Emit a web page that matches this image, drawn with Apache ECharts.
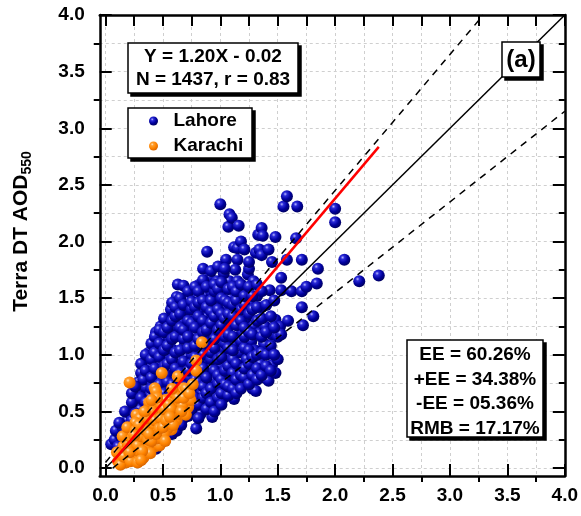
<!DOCTYPE html>
<html>
<head>
<meta charset="utf-8">
<script src="https://cdn.jsdelivr.net/npm/echarts@6/dist/echarts.min.js"></script>
<style>
  html, body { margin: 0; padding: 0; background: #fff; }
  #chart { width: 581px; height: 516px; }
</style>
</head>
<body>
<div id="chart"></div>
<script>
// AERONET AOD (x) vs Terra DT AOD550 (y)
const majorTicks = [0, 0.5, 1, 1.5, 2, 2.5, 3, 3.5, 4];
const minorTicks = [0.25, 0.75, 1.25, 1.75, 2.25, 2.75, 3.25, 3.75];
const gridTicks = [0, 0.25, 0.5, 0.75, 1, 1.25, 1.5, 1.75, 2, 2.25, 2.5, 2.75, 3, 3.25, 3.5, 3.75, 4];

const lahore = [
  [0.05,0.21],[0.08,0.25],[0.11,0.19],[0.13,0.29],[0.09,0.33],[0.16,0.23],[0.15,0.36],[0.18,0.31],[0.19,0.42],[0.14,0.15],
  [0.21,0.27],[0.22,0.47],[0.24,0.38],[0.25,0.55],[0.27,0.31],[0.28,0.45],[0.26,0.62],[0.29,0.68],[0.23,0.20],[0.30,0.52],[0.29,0.76],
  [0.31,0.84],[0.32,0.40],[0.33,0.60],[0.34,0.93],[0.35,0.71],[0.36,0.50],[0.37,0.82],[0.38,1.02],[0.39,0.64],[0.36,0.33],[0.40,0.90],[0.33,0.78],[0.38,0.45],
  [0.41,0.74],[0.42,1.08],[0.43,0.56],[0.44,0.97],[0.45,0.85],[0.46,1.15],[0.47,0.66],[0.48,0.92],[0.49,1.04],[0.42,0.44],[0.46,0.38],[0.50,0.78],[0.44,1.20],[0.48,1.25],
  [0.51,1.12],[0.52,0.58],[0.53,0.98],[0.54,1.30],[0.55,0.70],[0.56,1.22],[0.57,0.86],[0.58,1.05],[0.59,0.47],[0.52,0.40],[0.56,0.36],[0.60,1.36],[0.53,0.82],[0.57,1.40],[0.55,1.15],
  [0.61,0.62],[0.62,1.51],[0.63,1.62],[0.64,0.95],[0.65,1.18],[0.66,0.76],[0.67,1.30],[0.68,1.61],[0.69,1.08],[0.70,0.50],[0.62,0.44],[0.67,0.43],[0.64,1.42],[0.70,1.38],[0.66,0.88],[0.69,0.66],[0.61,1.25],
  [0.71,0.98],[0.72,1.48],[0.73,0.80],[0.74,1.22],[0.75,0.60],[0.76,1.10],[0.77,1.55],[0.78,0.90],[0.79,1.32],[0.80,0.70],[0.76,0.49],[0.79,0.35],[0.73,1.40],[0.78,1.18],[0.72,0.55],[0.80,1.50],[0.75,1.00],
  [0.81,1.06],[0.82,1.62],[0.83,0.83],[0.84,1.40],[0.85,1.76],[0.86,0.57],[0.87,1.25],[0.88,0.96],[0.89,1.52],[0.90,0.74],[0.885,1.91],[0.83,0.48],[0.86,1.15],[0.88,1.33],[0.82,1.28],[0.90,1.05],[0.84,0.66],
  [0.91,1.68],[0.92,0.88],[0.93,0.45],[0.94,1.20],[0.95,1.45],[0.96,0.64],[0.97,1.65],[0.98,1.02],[0.99,1.30],[1.00,2.33],[0.95,0.78],[0.92,1.55],[0.97,0.55],[1.00,0.90],[0.93,1.10],[0.99,1.52],
  [1.01,1.16],[1.02,0.70],[1.03,0.62],[1.04,1.42],[1.05,1.84],[1.06,0.98],[1.07,2.13],[1.08,1.65],[1.09,0.82],[1.10,1.28],[1.08,2.24],[1.10,2.21],[1.04,1.58],[1.06,1.22],[1.02,1.05],[1.09,1.50],[1.03,1.72],
  [1.12,0.61],[1.12,1.95],[1.13,1.10],[1.14,1.38],[1.15,1.94],[1.15,1.65],[1.15,1.84],[1.16,2.14],[1.17,0.90],[1.18,2.00],[1.18,1.52],[1.19,1.20],[1.20,0.75],[1.13,1.75],[1.17,1.02],
  [1.21,1.93],[1.22,1.32],[1.23,0.96],[1.24,1.71],[1.25,1.76],[1.25,1.82],[1.25,0.84],[1.26,1.45],[1.27,1.12],[1.28,0.70],[1.29,1.65],[1.30,1.04],[1.29,1.25],[1.31,0.68],[1.22,1.58],
  [1.31,1.90],[1.33,2.06],[1.34,2.06],[1.34,1.93],[1.34,1.19],[1.36,2.12],[1.36,1.88],[1.36,1.42],[1.37,2.05],[1.38,1.10],[1.39,1.25],[1.39,1.09],[1.35,0.92],[1.32,1.52],[1.38,0.80],
  [1.42,1.93],[1.42,1.03],[1.42,0.77],[1.43,1.57],[1.45,1.82],[1.45,1.18],[1.45,0.91],[1.48,2.04],[1.48,1.31],[1.48,0.84],[1.50,1.16],[1.50,0.96],[1.52,1.25],[1.53,1.68],[1.53,1.57],[1.53,1.18],[1.55,2.31],[1.58,2.40],[1.58,1.84],[1.59,1.30],
  [1.62,1.56],[1.66,2.03],[1.67,2.31],[1.71,1.84],[1.71,1.56],[1.71,1.42],[1.72,1.26],[1.75,1.60],[1.81,1.34],[1.84,1.63],[1.85,1.76],[2.00,2.29],[2.00,2.17],[2.08,1.84],[2.21,1.65],[2.38,1.70],
  [0.48,0.22],[0.52,0.25],[0.44,0.17],[0.58,0.30],[0.62,0.33],[0.66,0.38],
  // dense core of the Lahore cloud
  [0.12,0.40],[0.17,0.18],[0.17,0.50],[0.23,0.58],[0.23,0.66],[0.23,0.42],[0.26,0.72],[0.26,0.36],[0.26,0.48],
  [0.31,0.62],[0.31,0.92],[0.31,0.45],[0.31,0.30],[0.35,0.86],[0.35,1.00],[0.35,0.58],[0.35,0.40],
  [0.40,0.52],[0.40,0.70],[0.40,0.80],[0.40,1.10],[0.40,0.96],[0.43,0.62],[0.43,0.88],[0.43,1.02],[0.43,1.16],
  [0.47,0.58],[0.47,0.74],[0.47,0.98],[0.47,1.10],[0.47,1.22],[0.51,0.48],[0.51,0.66],[0.51,0.90],[0.51,1.04],[0.51,1.20],[0.51,1.32],
  [0.54,0.52],[0.54,0.76],[0.54,0.92],[0.54,1.08],[0.54,1.24],[0.58,0.42],[0.58,0.62],[0.58,0.74],[0.58,0.96],[0.58,1.14],[0.58,1.30],[0.58,1.46],
  [0.61,0.54],[0.61,0.70],[0.61,0.88],[0.61,1.02],[0.61,1.16],[0.61,1.34],[0.61,1.42],
  [0.65,0.50],[0.65,0.66],[0.65,0.84],[0.65,1.04],[0.65,1.24],[0.65,1.36],[0.65,1.50],
  [0.68,0.58],[0.68,0.72],[0.68,0.94],[0.68,1.14],[0.68,1.22],[0.68,1.44],
  [0.72,0.46],[0.72,0.66],[0.72,0.86],[0.72,1.06],[0.72,1.16],[0.72,1.30],[0.72,1.56],
  [0.75,0.52],[0.75,0.72],[0.75,0.92],[0.75,1.28],[0.75,1.40],[0.75,1.47],
  [0.78,0.62],[0.78,0.78],[0.78,0.98],[0.78,1.08],[0.78,1.24],[0.78,1.42],[0.78,1.60],
  [0.81,0.44],[0.81,0.56],[0.81,0.76],[0.81,0.92],[0.81,1.14],[0.81,1.34],[0.81,1.46],[0.81,1.56],
  [0.85,0.62],[0.85,0.72],[0.85,0.88],[0.85,1.00],[0.85,1.20],[0.85,1.30],[0.85,1.48],[0.85,1.66],
  [0.88,0.52],[0.88,0.66],[0.88,0.80],[0.88,1.10],[0.88,1.22],[0.88,1.42],[0.88,1.60],
  [0.92,0.58],[0.92,0.70],[0.92,0.96],[0.92,1.02],[0.92,1.28],[0.92,1.38],[0.92,1.48],[0.92,1.74],
  [0.95,0.50],[0.95,0.86],[0.95,1.06],[0.95,1.14],[0.95,1.34],[0.95,1.56],[0.95,1.62],
  [0.98,0.62],[0.98,0.74],[0.98,0.82],[0.98,0.96],[0.98,1.22],[0.98,1.40],[0.98,1.58],[0.98,1.78],
  [1.01,0.56],[1.01,0.66],[1.01,0.78],[1.01,0.98],[1.01,1.26],[1.01,1.36],[1.01,1.50],[1.01,1.64],
  [1.04,0.74],[1.04,0.86],[1.04,1.10],[1.04,1.16],[1.04,1.32],[1.04,1.48],[1.04,1.76],
  [1.07,0.64],[1.07,0.72],[1.07,0.90],[1.07,1.06],[1.07,1.18],[1.07,1.36],[1.07,1.46],[1.07,1.58],
  [1.11,0.70],[1.11,0.84],[1.11,0.96],[1.11,1.04],[1.11,1.16],[1.11,1.34],[1.11,1.44],[1.11,1.60],
  [1.14,0.66],[1.14,0.78],[1.14,0.92],[1.14,1.26],[1.14,1.48],[1.14,1.56],
  [1.18,0.70],[1.18,0.82],[1.18,1.12],[1.18,1.30],[1.18,1.40],[1.18,1.62],
  [1.21,0.80],[1.21,0.88],[1.21,1.06],[1.21,1.16],[1.21,1.24],[1.21,1.44],[1.21,1.52],
  [1.25,0.74],[1.25,0.92],[1.25,1.04],[1.25,1.20],[1.25,1.36],[1.25,1.60],
  [1.28,0.82],[1.28,0.98],[1.28,1.18],[1.28,1.40],[1.28,1.52],
  [1.32,0.78],[1.32,0.88],[1.32,1.00],[1.32,1.30],[1.32,1.42],[1.32,1.62],
  [1.36,0.82],[1.36,1.02],[1.36,1.16],[1.36,1.32],[1.36,1.56],
  [1.40,0.90],[1.40,1.00],[1.40,1.20],[1.40,1.44],[1.44,0.86],[1.44,1.08],[1.44,1.34],[1.47,1.00],[1.47,1.24],[1.47,1.48]
];

const karachi = [
  [0.11,0.06],[0.14,0.06],[0.14,0.10],[0.20,0.10],[0.27,0.10],[0.155,0.19],[0.21,0.255],[0.23,0.35],[0.285,0.31],[0.34,0.28],
  [0.30,0.20],[0.43,0.19],[0.47,0.20],[0.24,0.34],[0.27,0.28],[0.36,0.28],[0.415,0.29],[0.27,0.47],[0.33,0.425],[0.40,0.43],
  [0.49,0.41],[0.57,0.425],[0.62,0.425],[0.52,0.365],[0.56,0.34],[0.575,0.34],[0.54,0.35],[0.42,0.56],[0.47,0.51],[0.36,0.51],
  [0.59,0.50],[0.55,0.485],[0.53,0.51],[0.61,0.42],[0.71,0.54],[0.72,0.54],[0.65,0.59],[0.555,0.61],[0.52,0.60],[0.43,0.705],
  [0.44,0.675],[0.68,0.705],[0.71,0.63],[0.66,0.66],[0.63,0.81],[0.49,0.84],[0.79,0.95],[0.79,0.86],[0.21,0.755],[0.84,1.11],
  [0.17,0.15],[0.24,0.16],[0.19,0.22],[0.31,0.36],[0.38,0.38],[0.45,0.33],[0.35,0.15],[0.24,0.09],[0.10,0.14],[0.18,0.05],
  [0.62,0.52],[0.64,0.48],[0.50,0.45],[0.45,0.47],[0.38,0.58],[0.30,0.44],[0.56,0.59],[0.39,0.47],[0.49,0.485],[0.33,0.22],
  [0.26,0.40],[0.22,0.30],[0.29,0.25],[0.37,0.20],[0.40,0.33],[0.46,0.40],[0.51,0.30],[0.58,0.46],[0.60,0.58],[0.67,0.55],
  [0.70,0.70],[0.74,0.60],[0.13,0.03],[0.16,0.10],[0.22,0.06],[0.29,0.15],[0.33,0.09],[0.39,0.13],[0.45,0.26],[0.35,0.36],
  [0.42,0.38],[0.48,0.56],[0.60,0.66],[0.70,0.47],[0.25,0.22],
  [0.15,0.28],[0.19,0.36],[0.20,0.17],[0.23,0.26],[0.26,0.33],[0.28,0.20],[0.31,0.28],[0.32,0.15],[0.34,0.34],[0.36,0.44],
  [0.37,0.25],[0.40,0.24],[0.41,0.50],[0.43,0.42],[0.44,0.30],[0.47,0.35],[0.48,0.44],[0.50,0.36],[0.51,0.52],[0.53,0.42],
  [0.55,0.56],[0.57,0.52],[0.59,0.38],[0.63,0.62],[0.66,0.50],[0.68,0.62],[0.73,0.66],[0.76,0.74],[0.45,0.62],[0.40,0.60],
  [0.34,0.50],[0.29,0.38],[0.25,0.29],[0.21,0.14],[0.28,0.05],[0.31,0.07],[0.38,0.30],[0.52,0.24],[0.56,0.45],[0.58,0.70]
];

// reference lines: 1:1, expected-error envelope, and the least-squares fit
const oneToOne = [[0, 0], [4, 4]];
const eeUpper = [[0, 0.05], [3.29, 4.0]];
const eeLower = [[0.0625, 0], [4, 3.15]];
const fitLine = [[0.06, 0.052], [2.38, 2.836]];

const eqLines = ['Y = 1.20X - 0.02', 'N = 1437, r = 0.83'];
const statLines = ['EE = 60.26%', '+EE = 34.38%', '-EE = 05.36%', 'RMB = 17.17%'];
const panelTag = '(a)';

const FONT = '"Liberation Sans", Arial, sans-serif';
const fmt = v => v.toFixed(1);

function sphere(c0, c1, c2, c3) {
  return {
    type: 'radial', x: 0.36, y: 0.32, r: 0.72,
    colorStops: [
      { offset: 0, color: c0 },
      { offset: 0.22, color: c1 },
      { offset: 0.6, color: c2 },
      { offset: 1, color: c3 }
    ]
  };
}

const XR = { min: -0.05, max: 4 };
const YR = { min: -0.07, max: 4 };

function baseAxis(range, position, extra) {
  return Object.assign({
    type: 'value', min: range.min, max: range.max, position: position,
    axisLine: { show: false, onZero: false },
    axisTick: { show: false },
    axisLabel: { show: false },
    splitLine: { show: false }
  }, extra);
}

const frameLine = { show: true, onZero: false, lineStyle: { color: '#000', width: 2.5 } };
const tickStyle = { color: '#000', width: 2 };
const labelStyle = { color: '#000', fontFamily: FONT, fontWeight: 'bold', fontSize: 19 };
const gridLine = { show: true, lineStyle: { color: '#cfcfcf', width: 1, type: [3, 3] } };

const xAxes = [
  baseAxis(XR, 'bottom', {
    axisLine: frameLine,
    axisTick: { show: true, inside: true, length: 12, customValues: majorTicks, lineStyle: tickStyle },
    axisLabel: Object.assign({ show: true, customValues: majorTicks, formatter: fmt, margin: 10 }, labelStyle)
  }),
  baseAxis(XR, 'bottom', {
    axisTick: { show: false, customValues: gridTicks },
    splitLine: gridLine
  }),
  baseAxis(XR, 'bottom', {
    axisTick: { show: true, inside: false, length: 6, customValues: minorTicks, lineStyle: tickStyle }
  }),
  baseAxis(XR, 'top', {
    axisLine: frameLine,
    axisTick: { show: true, inside: true, length: 11, customValues: gridTicks, lineStyle: tickStyle }
  })
];

const yAxes = [
  baseAxis(YR, 'left', {
    axisLine: frameLine,
    axisTick: { show: true, inside: true, length: 12, customValues: majorTicks, lineStyle: tickStyle },
    axisLabel: Object.assign({ show: true, customValues: majorTicks, formatter: fmt, margin: 15 }, labelStyle),
    name: '{a|Terra DT AOD}{b|550}',
    nameLocation: 'middle',
    nameRotate: 90,
    nameGap: 66,
    nameTextStyle: {
      padding: [0, 0, 0, 28],
      rich: {
        a: { fontFamily: FONT, fontWeight: 'bold', fontSize: 21, color: '#000', lineHeight: 26 },
        b: { fontFamily: FONT, fontWeight: 'bold', fontSize: 14, color: '#000', lineHeight: 14, verticalAlign: 'bottom' }
      }
    }
  }),
  baseAxis(YR, 'left', {
    axisTick: { show: false, customValues: gridTicks },
    splitLine: gridLine
  }),
  baseAxis(YR, 'left', {
    axisTick: { show: true, inside: false, length: 6, customValues: minorTicks, lineStyle: tickStyle }
  }),
  baseAxis(YR, 'right', {
    axisLine: frameLine,
    axisTick: { show: true, inside: true, length: 12, customValues: majorTicks, lineStyle: tickStyle }
  }),
  baseAxis(YR, 'right', {
    axisTick: { show: true, inside: true, length: 6, customValues: minorTicks, lineStyle: tickStyle }
  })
];

function refLine(data, color, width, type, z) {
  return {
    type: 'line', data: data, xAxisIndex: 0, yAxisIndex: 0,
    showSymbol: false, symbol: 'none', silent: true, z: z,
    lineStyle: { color: color, width: width, type: type },
    animation: false
  };
}

// annotation box: white panel with a hard drop shadow and centred lines of text
function box(x, y, w, h, lines, fontSize, lineGap, firstY) {
  const els = [
    { type: 'rect', z: 100, silent: true,
      shape: { x: x + 3, y: y + 3, width: w, height: h },
      style: { fill: '#000', stroke: '#000', lineWidth: 1.5 } },
    { type: 'rect', z: 101, silent: true,
      shape: { x: x, y: y, width: w, height: h },
      style: { fill: '#fff', stroke: '#000', lineWidth: 1.5 } }
  ];
  lines.forEach((t, i) => {
    els.push({
      type: 'text', z: 102, silent: true,
      x: x + w / 2, y: firstY + i * lineGap,
      style: {
        text: t,
        align: 'center', verticalAlign: 'middle',
        textAlign: 'center', textVerticalAlign: 'middle',
        font: 'bold ' + fontSize + 'px ' + FONT, fill: '#000'
      }
    });
  });
  return els;
}

const chart = echarts.init(document.getElementById('chart'), null, { renderer: 'canvas' });
chart.setOption({
  animation: false,
  backgroundColor: '#fff',
  grid: { left: 99.75, right: 15.5, top: 15, bottom: 40 },
  xAxis: xAxes,
  yAxis: yAxes,
  legend: {
    orient: 'vertical', left: 128, top: 108,
    data: ['Lahore', 'Karachi'],
    icon: 'circle', itemWidth: 30, itemHeight: 9, itemGap: 5,
    padding: [3, 12, 3, 21],
    backgroundColor: 'transparent', borderWidth: 0,
    textStyle: { fontFamily: FONT, fontWeight: 'bold', fontSize: 19, color: '#000', lineHeight: 20 },
    z: 120
  },
  series: [
    {
      name: 'Lahore', type: 'scatter', data: lahore, symbol: 'circle', symbolSize: 12,
      xAxisIndex: 0, yAxisIndex: 0, z: 3,
      itemStyle: { color: sphere('#b8b8ff', '#2a2ad8', '#00009e', '#00005a'), opacity: 1 }
    },
    {
      name: 'Karachi', type: 'scatter', data: karachi, symbol: 'circle', symbolSize: 12,
      xAxisIndex: 0, yAxisIndex: 0, z: 4,
      itemStyle: { color: sphere('#ffe6c8', '#ffa030', '#ff8400', '#d86400'), opacity: 1 }
    },
    refLine(oneToOne, '#000', 1.5, 'solid', 5),
    refLine(eeUpper, '#000', 1.5, [7, 6], 5),
    refLine(eeLower, '#000', 1.5, [7, 6], 5),
    refLine(fitLine, '#ff0000', 2.5, 'solid', 6)
  ],
  graphic: [].concat(
    box(128, 43, 170, 50, eqLines, 19, 23, 57),
    box(128, 108, 124, 50, [], 19, 0, 0),
    box(502, 42, 38, 35, [panelTag], 24, 0, 60),
    box(407, 340, 136, 97, statLines, 19, 24.5, 355)
  )
});
</script>
</body>
</html>
